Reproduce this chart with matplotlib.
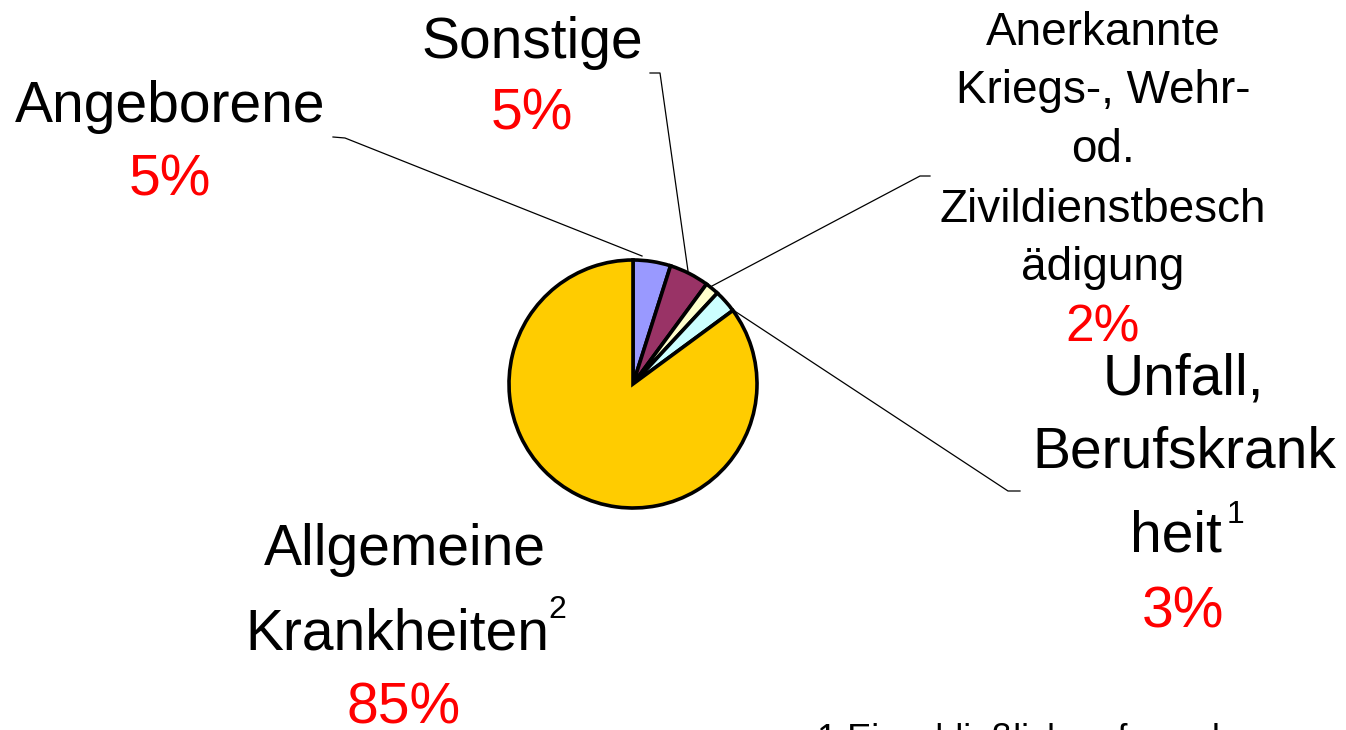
import matplotlib
matplotlib.use("Agg")
import matplotlib.pyplot as plt

# ---- data ----
categories = ["Angeborene", "Sonstige",
              "Anerkannte Kriegs-, Wehr- od. Zivildienstbeschädigung",
              "Unfall, Berufskrankheit", "Allgemeine Krankheiten"]
values = [4.9, 5.2, 1.8, 3.0, 85.1]
pct_labels = ["5%", "5%", "2%", "3%", "85%"]
colors = ["#9999FF", "#993366", "#FFFFCC", "#CCFFFF", "#FFCC00"]
footnote = "1 Einschließlich aufgrund"

W, H = 1346, 730
plt.rcParams['font.family'] = ['Liberation Sans', 'DejaVu Sans']
fig = plt.figure(figsize=(W / 100, H / 100), dpi=100)
ax = fig.add_axes([0, 0, 1, 1])

def Y(y):
    return H - y

ax.pie(values, colors=colors, startangle=90, counterclock=False,
       center=(633, Y(384)), radius=124,
       wedgeprops=dict(edgecolor="black", linewidth=2.6))
ax.set_xlim(0, W)
ax.set_ylim(0, H)
ax.set_aspect('auto')
ax.axis('off')

BIG = 41
SMALL = 33
SUP = 23
RED = "#FF0000"

def txt(x, y, s, size, color="black", ha="center"):
    ax.text(x, Y(y), s, fontsize=size, color=color, ha=ha, va="baseline",
            clip_on=False)

# leader lines
lw = 0.9
ax.plot([333, 345, 642], [Y(137), Y(138), Y(256)], color="black", lw=lw)
ax.plot([650, 660, 688], [Y(73), Y(73), Y(271)], color="black", lw=lw)
ax.plot([930, 920, 712], [Y(176), Y(176), Y(286)], color="black", lw=lw)
ax.plot([1020, 1008, 730], [Y(491), Y(491), Y(308)], color="black", lw=lw)

# Angeborene
txt(170, 122, "Angeborene", BIG)
txt(170, 195, pct_labels[0], BIG, RED)
# Sonstige
txt(532, 58, "Sonstige", BIG)
txt(532, 130, pct_labels[1], BIG, RED)
# Anerkannte block
for s, yb in zip(["Anerkannte", "Kriegs-, Wehr-", "od.", "Zivildienstbesch", "ädigung"],
                 [45, 103, 162, 222, 280]):
    txt(1103, yb, s, SMALL)
txt(1103, 342, pct_labels[2], 37, RED)
# Unfall block
txt(1183, 395, "Unfall,", BIG)
txt(1184, 467, "Berufskrank", BIG)
txt(1130, 552, "heit", BIG, ha="left")
txt(1227, 523, "1", SUP, ha="left")
txt(1183, 627, pct_labels[3], BIG, RED)
# Allgemeine block
txt(405, 565, "Allgemeine", BIG)
txt(245, 650, "Krankheiten", BIG, ha="left")
txt(548, 618, "2", SUP, ha="left")
txt(404, 723, pct_labels[4], BIG, RED)

# footnote (cut off at bottom, as in the source)
txt(817, 750, footnote, 26, ha="left")

fig.savefig("out.png", dpi=100)
